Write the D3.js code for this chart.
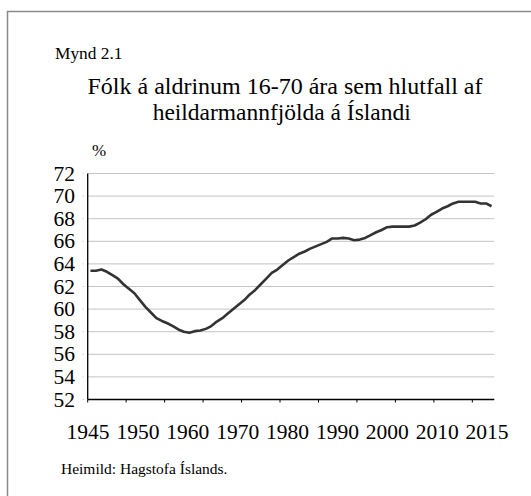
<!DOCTYPE html>
<html><head><meta charset="utf-8">
<script src="https://cdn.jsdelivr.net/npm/d3@7"></script>
<style>body{margin:0;background:#fff}svg{display:block}</style>
</head><body>
<svg id="c" width="531" height="496"></svg>
<script>
const years = d3.range(1945, 2019);
const values = [63.4,63.4,63.5,63.3,63.0,62.7,62.2,61.8,61.4,60.8,
60.2,59.7,59.2,58.95,58.75,58.5,58.2,58.0,57.9,58.05,
58.1,58.25,58.5,58.9,59.2,59.6,60.0,60.4,60.8,61.3,
61.7,62.2,62.7,63.2,63.5,63.9,64.3,64.6,64.9,65.1,
65.35,65.55,65.75,65.95,66.25,66.25,66.3,66.25,66.1,66.15,
66.3,66.55,66.8,67.0,67.25,67.3,67.3,67.3,67.3,67.4,
67.65,67.95,68.35,68.6,68.9,69.1,69.35,69.5,69.5,69.5,
69.5,69.35,69.35,69.1];
const yTicks = [52,54,56,58,60,62,64,66,68,70,72];
const xLabels = ["1945","1950","1960","1970","1980","1990","2000","2010","2015"];
const tickEvery = 7;

const svg = d3.select("#c");
const font = "'Liberation Serif','Times New Roman',serif";
const L = 87.7, R = 494.3, T = 173.5, B = 399.5;

svg.append("path").attr("d","M7.5,496V11.5H531").attr("fill","none").attr("stroke","#8a8a8a").attr("stroke-width",1.5);

function txt(xp, yp, size, s, len, anchor){
  const t = svg.append("text").attr("x",xp).attr("y",yp).attr("font-family",font).attr("font-size",size).text(s);
  if (anchor) t.attr("text-anchor",anchor);
  if (len) t.attr("textLength",len).attr("lengthAdjust","spacingAndGlyphs");
  return t;
}
txt(55, 59, 17, "Mynd 2.1", 67.5);
txt(285, 94, 23, "Fólk á aldrinum 16-70 ára sem hlutfall af", 395, "middle");
txt(281.7, 119.5, 23, "heildarmannfjölda á Íslandi", 258, "middle");
txt(99, 156, 17, "%", null, "middle");

const x = d3.scaleBand().domain(years).range([L,R]).padding(0);
const y = d3.scaleLinear().domain([52,72]).range([B,T]);

svg.append("g").selectAll("line").data(yTicks.filter(d=>d>52)).join("line")
  .attr("x1",L).attr("x2",R).attr("y1",d=>y(d)).attr("y2",d=>y(d))
  .attr("stroke","#c4c4c4").attr("stroke-width",1);

svg.append("g").selectAll("text").data(yTicks).join("text")
  .attr("x",75).attr("y",d=>y(d)+7).attr("text-anchor","end")
  .attr("font-family",font).attr("font-size",21.5).text(d=>d);
svg.append("g").selectAll("line").data(yTicks).join("line")
  .attr("x1",L-5).attr("x2",L-4).attr("y1",d=>y(d)).attr("y2",d=>y(d))
  .attr("stroke","#bbb").attr("stroke-width",1);

svg.append("line").attr("x1",L).attr("x2",L).attr("y1",T).attr("y2",B).attr("stroke","#000").attr("stroke-width",1.3);
svg.append("line").attr("x1",L).attr("x2",R).attr("y1",B).attr("y2",B).attr("stroke","#000").attr("stroke-width",1.3);
const tickYears = years.filter((d,i)=>i%tickEvery===0);
svg.append("g").selectAll("line").data(tickYears).join("line")
  .attr("x1",d=>x(d)).attr("x2",d=>x(d)).attr("y1",B).attr("y2",B+3)
  .attr("stroke","#000").attr("stroke-width",1);

const xl = d3.scalePoint().domain(xLabels).range([88,487]);
svg.append("g").selectAll("text").data(xLabels).join("text")
  .attr("x",d=>xl(d)).attr("y",439).attr("text-anchor","middle")
  .attr("font-family",font).attr("font-size",21.5).text(d=>d);

const line = d3.line().x((d,i)=>x(years[i])+x.bandwidth()/2).y(d=>y(d));
svg.append("path").datum(values).attr("d",line).attr("fill","none")
  .attr("stroke","#333").attr("stroke-width",2.6).attr("stroke-linejoin","round");

txt(61, 474, 14, "Heimild: Hagstofa Íslands.", 166.5);
</script>
</body></html>
